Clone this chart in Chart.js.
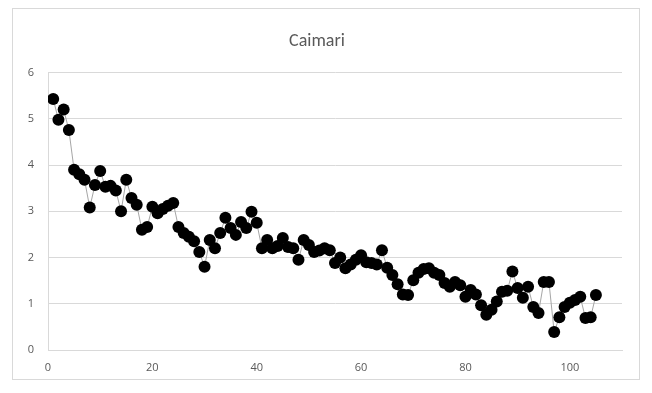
<!DOCTYPE html>
<html>
<head>
<meta charset="utf-8">
<script src="https://cdn.jsdelivr.net/npm/chart.js@4"></script>
<style>
  html, body { margin: 0; padding: 0; background: #fff; }
  #wrap { width: 652px; height: 393px; }
</style>
</head>
<body>
<div id="wrap"><canvas id="c" width="652" height="393"></canvas></div>
<script>
var chartTitle = "Caimari";
var xTicks = [0, 20, 40, 60, 80, 100];
var yTicks = [0, 1, 2, 3, 4, 5, 6];
var values = [
    5.43, 4.98, 5.20, 4.76, 3.90, 3.80, 3.68, 3.08, 3.57, 3.87,
    3.53, 3.55, 3.45, 3.00, 3.68, 3.29, 3.14, 2.60, 2.66, 3.10,
    2.96, 3.05, 3.12, 3.18, 2.66, 2.53, 2.45, 2.35, 2.12, 1.80,
    2.38, 2.20, 2.53, 2.86, 2.64, 2.49, 2.77, 2.64, 2.99, 2.75,
    2.20, 2.38, 2.20, 2.25, 2.42, 2.23, 2.20, 1.95, 2.38, 2.27,
    2.12, 2.15, 2.20, 2.16, 1.88, 2.00, 1.77, 1.85, 1.95, 2.05,
    1.90, 1.88, 1.85, 2.16, 1.78, 1.62, 1.42, 1.20, 1.19, 1.51,
    1.67, 1.75, 1.77, 1.67, 1.62, 1.45, 1.37, 1.47, 1.40, 1.15,
    1.30, 1.20, 0.97, 0.76, 0.87, 1.05, 1.26, 1.28, 1.70, 1.34,
    1.13, 1.37, 0.93, 0.80, 1.47, 1.47, 0.39, 0.71, 0.93, 1.02,
    1.08, 1.15, 0.69, 0.71, 1.19
];

// frame round the whole chart, like the spreadsheet chart box
var framePlugin = {
    id: 'frame',
    beforeDraw: function (chart) {
        var ctx = chart.ctx;
        ctx.save();
        ctx.fillStyle = '#fff';
        ctx.fillRect(0, 0, chart.width, chart.height);
        ctx.strokeStyle = '#d9d9d9';
        ctx.lineWidth = 1;
        ctx.strokeRect(12.5, 8.5, 627, 371);
        ctx.restore();
    }
};

(function () {
    try {
        var ctx = document.getElementById('c').getContext('2d');
        var points = values.map(function (v, i) { return { x: i + 1, y: v }; });

        new Chart(ctx, {
            type: 'scatter',
            data: {
                datasets: [{
                    data: points,
                    showLine: true,
                    borderColor: '#a6a6a6',
                    borderWidth: 1,
                    pointRadius: 6,
                    pointHoverRadius: 6,
                    pointBackgroundColor: '#000',
                    pointBorderColor: '#000',
                    pointBorderWidth: 0
                }]
            },
            options: {
                responsive: false,
                animation: false,
                layout: { padding: { left: 12, right: 30, top: 14, bottom: 12 } },
                plugins: {
                    legend: { display: false },
                    tooltip: { enabled: false },
                    title: {
                        display: true,
                        text: chartTitle,
                        color: '#595959',
                        font: { family: 'Calibri, Carlito, "Open Sans", sans-serif', size: 18, weight: 'normal' },
                        padding: { top: 17, bottom: 20 }
                    }
                },
                scales: {
                    x: {
                        type: 'linear',
                        min: 0,
                        max: 110,
                        afterBuildTicks: function (s) {
                            s.ticks = xTicks.map(function (v) { return { value: v }; });
                        },
                        afterFit: function (s) { s.height = 31; },
                        grid: { display: false, drawTicks: false },
                        border: { display: true, color: '#d9d9d9', width: 1 },
                        ticks: {
                            padding: 11,
                            color: '#595959',
                            font: { family: '"Open Sans", sans-serif', size: 11 }
                        }
                    },
                    y: {
                        min: 0,
                        max: 6,
                        afterBuildTicks: function (s) {
                            s.ticks = yTicks.map(function (v) { return { value: v }; });
                        },
                        afterFit: function (s) { s.width = 36; },
                        grid: { color: '#d9d9d9', drawTicks: false },
                        border: { display: true, color: '#d9d9d9', width: 1 },
                        ticks: {
                            padding: 14,
                            color: '#595959',
                            font: { family: '"Open Sans", sans-serif', size: 11 }
                        }
                    }
                }
            },
            plugins: [framePlugin]
        });
    } catch (e) { console.log(e); }
})();
</script>
</body>
</html>
